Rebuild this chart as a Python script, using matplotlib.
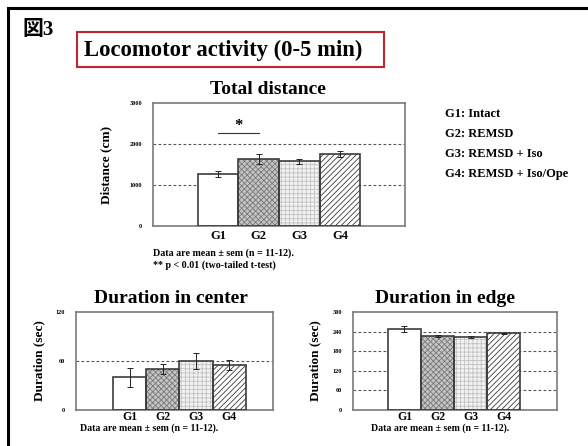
"""Recreate Figure 3: locomotor activity (0-5 min) bar charts."""

import matplotlib

matplotlib.use("Agg")
import matplotlib.pyplot as plt
from matplotlib.patches import Rectangle
from matplotlib.lines import Line2D

plt.rcParams["font.family"] = ["Liberation Serif", "Noto Sans CJK JP"]
plt.rcParams["font.weight"] = "bold"
plt.rcParams["hatch.linewidth"] = 0.6

GROUPS = ["G1", "G2", "G3", "G4"]
LEGEND_LINES = ["G1: Intact", "G2: REMSD", "G3: REMSD + Iso", "G4: REMSD + Iso/Ope"]

TOTAL_MEAN = [1260, 1625, 1580, 1760]
TOTAL_SEM = [70, 120, 60, 80]
TOTAL_TICKS = [0, 1000, 2000, 3000]

CENTER_MEAN = [40, 50, 60, 55]
CENTER_SEM = [12, 6, 10, 6]
CENTER_TICKS = [0, 60, 120]

EDGE_MEAN = [248, 227, 224, 235]
EDGE_SEM = [8, 3, 4, 2]
EDGE_TICKS = [0, 60, 120, 180, 240, 300]

# (facecolor, hatch, hatch colour) per group
STYLES = [
    ("white", None, None),
    ("#c4c4c4", "xxxxxx", "#7a7a7a"),
    ("#f2f2f2", "++++", "#c2c2c2"),
    ("white", "//////", "#3a3a3a"),
]
EDGE = "#3c3c3c"
SPINE = "#7a7a7a"
NOTE = "Data are mean \u00b1 sem (n = 11-12)."


def draw_panel(fig, rect, means, sems, ticks, xlim, title, ylabel, title_x, ylabel_x,
               group_size=9, group_pad=3):
    ax = fig.add_axes(rect)
    x = [1, 2, 3, 4]
    for yv in ticks[1:-1]:
        ax.axhline(yv, color="#555555", linestyle=(0, (2.5, 2)), linewidth=0.8, zorder=1)
    for xi, m, (fc, hatch, hc) in zip(x, means, STYLES):
        ax.bar(xi, m, width=1.0, color=fc, hatch=hatch, edgecolor=hc if hc else fc,
               linewidth=0, zorder=2)
        ax.bar(xi, m, width=1.0, fill=False, edgecolor=EDGE, linewidth=1.2, zorder=3)
    ax.errorbar(x, means, yerr=sems, fmt="none", ecolor="#222222", elinewidth=0.7,
                capsize=2, capthick=0.7, zorder=4)
    ax.set_xlim(*xlim)
    ax.set_ylim(ticks[0], ticks[-1])
    ax.set_yticks(ticks)
    ax.set_yticklabels([str(t) for t in ticks], fontsize=4.5)
    ax.set_xticks(x)
    ax.set_xticklabels(GROUPS, fontsize=group_size)
    ax.tick_params(axis="x", length=0, pad=group_pad)
    ax.tick_params(axis="y", length=0, pad=8)
    for s in ax.spines.values():
        s.set_color(SPINE)
        s.set_linewidth(1.2)
    pos = ax.get_position()
    fig.text(title_x, pos.y1 + 0.012, title, ha="center", va="bottom", fontsize=14,
             fontweight="bold")
    fig.text(ylabel_x, (pos.y0 + pos.y1) / 2, ylabel, rotation=90, ha="center",
             va="center", fontsize=9.5, fontweight="bold")
    return ax


fig = plt.figure(figsize=(5.88, 4.46), dpi=100)
W, H = 588.0, 446.0


def fx(px):
    return px / W


def fy(py):
    return 1 - py / H


# outer frame (left and top edges)
fig.add_artist(Line2D([fx(8), fx(8)], [fy(8), 0], color="black", linewidth=2.2))
fig.add_artist(Line2D([fx(8), 1], [fy(8), fy(8)], color="black", linewidth=2.2))

fig.text(fx(22), fy(30), "\u56f33", ha="left", va="center", fontsize=15,
         fontweight="bold")

fig.add_artist(Rectangle((fx(77), fy(67)), fx(384) - fx(77), fy(32) - fy(67),
                         fill=False, edgecolor="#c0262c", linewidth=1.5))
fig.text(fx(84), fy(50), "Locomotor activity (0-5 min)", ha="left", va="center",
         fontsize=16.3, fontweight="bold")

ax_top = draw_panel(fig, [fx(153), fy(226), fx(405) - fx(153), fy(103) - fy(226)],
                    TOTAL_MEAN, TOTAL_SEM, TOTAL_TICKS, (-0.6, 5.6),
                    "Total distance", "Distance (cm)", fx(268), fx(106))
ax_top.plot([1, 2], [2270, 2270], color="#333333", linewidth=0.8)
ax_top.text(1.5, 2430, "*", ha="center", va="center", fontsize=12, fontweight="bold")

fig.text(fx(153), fy(253), NOTE, ha="left", va="center", fontsize=7.2,
         fontweight="bold")
fig.text(fx(153), fy(265), "** p < 0.01 (two-tailed t-test)", ha="left", va="center",
         fontsize=7.2, fontweight="bold")

for i, line in enumerate(LEGEND_LINES):
    fig.text(fx(445), fy(114 + i * 20), line, ha="left", va="center", fontsize=9,
             fontweight="bold")

draw_panel(fig, [fx(76), fy(410), fx(273) - fx(76), fy(312) - fy(410)],
           CENTER_MEAN, CENTER_SEM, CENTER_TICKS, (-0.61, 5.31),
           "Duration in center", "Duration (sec)", fx(171), fx(39),
           group_size=8.5, group_pad=1)
fig.text(fx(149), fy(428), NOTE, ha="center", va="center", fontsize=7,
         fontweight="bold")

draw_panel(fig, [fx(353), fy(410), fx(557) - fx(353), fy(312) - fy(410)],
           EDGE_MEAN, EDGE_SEM, EDGE_TICKS, (-0.56, 5.62),
           "Duration in edge", "Duration (sec)", fx(445), fx(315),
           group_size=8.5, group_pad=1)
fig.text(fx(440), fy(428), NOTE, ha="center", va="center", fontsize=7,
         fontweight="bold")

fig.savefig("out.png", dpi=100)
